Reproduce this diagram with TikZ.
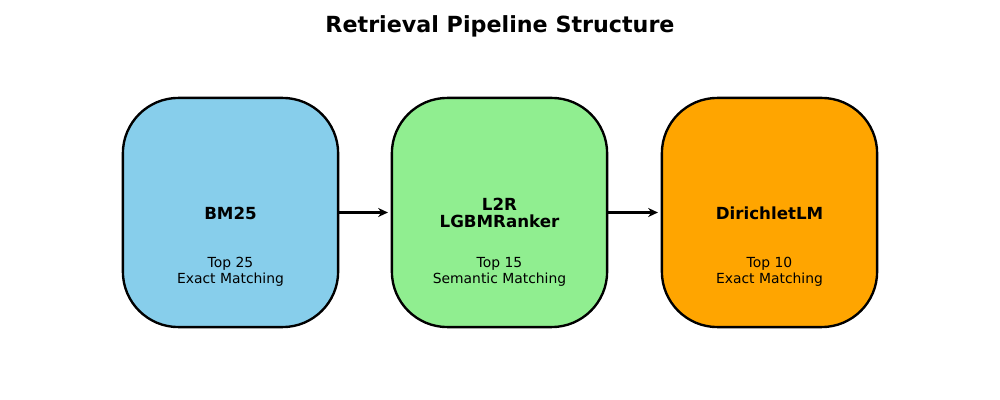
\documentclass[tikz,border=0pt]{standalone}
\usepackage{fontspec}
\setmainfont{DejaVu Sans}
\usetikzlibrary{arrows.meta}
\definecolor{skyb}{HTML}{87CEEB}
\definecolor{lgreen}{HTML}{90EE90}
\definecolor{orng}{HTML}{FFA500}
\tikzset{
  stage/.style={draw=black, line width=1.7pt, rounded corners=40pt, minimum width=155pt, minimum height=165pt, inner sep=0pt},
  flow/.style={-{Stealth[length=7pt,width=6.5pt]}, line width=1.5pt, shorten >=2pt},
  ttl/.style={font=\bfseries\fontsize{16}{19}\selectfont, align=center},
  sub/.style={font=\fontsize{10}{11.5}\selectfont, align=center},
  head/.style={font=\bfseries\fontsize{12}{12.3}\selectfont, align=center}
}
\begin{document}
\begin{tikzpicture}[x=0.72pt,y=0.72pt]
\useasboundingbox (0,0) rectangle (1000,-400);
\node[ttl] (title) at (500,-26) {Retrieval Pipeline Structure};
\node[stage, fill=skyb] (b1) at (230.5,-212.5) {};
\node[stage, fill=lgreen] (b2) at (499.5,-212.5) {};
\node[stage, fill=orng] (b3) at (769.5,-212.5) {};
\node[head] (h1) at (230.5,-213) {BM25};
\node[head] (h2) at (499.5,-213) {L2R\\LGBMRanker};
\node[head] (h3) at (769.5,-213) {DirichletLM};
\node[sub] (s1) at (230.5,-272) {Top 25\\Exact Matching};
\node[sub] (s2) at (499.5,-272) {Top 15\\Semantic Matching};
\node[sub] (s3) at (769.5,-272) {Top 10\\Exact Matching};
\draw[flow] (b1.east) -- (b2.west);
\draw[flow] (b2.east) -- (b3.west);
\end{tikzpicture}
\end{document}
